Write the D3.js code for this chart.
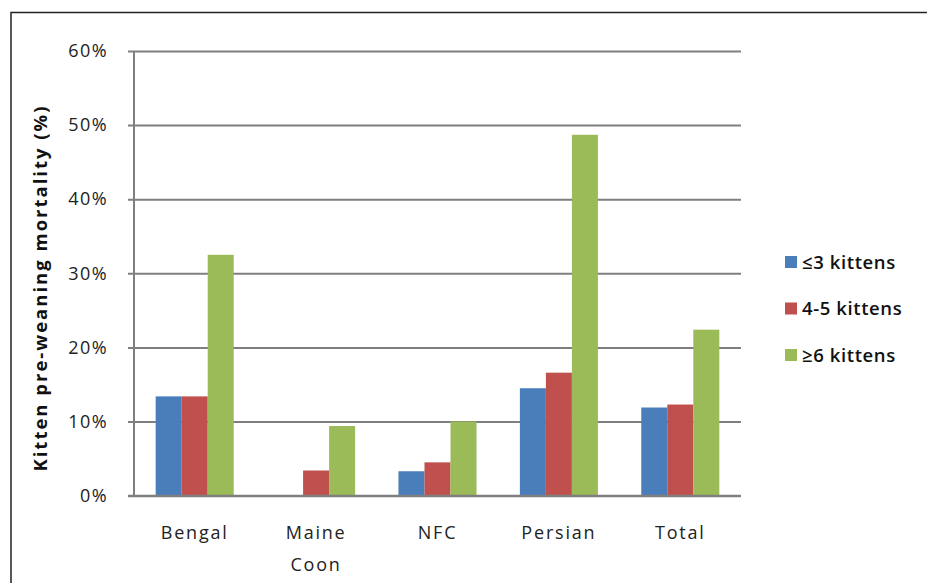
<!DOCTYPE html>
<html><head><meta charset="utf-8">
<script src="https://cdn.jsdelivr.net/npm/d3@7"></script>
<style>body{margin:0;background:#fff}text{font-family:"Open Sans",Lato,sans-serif}</style>
</head><body><svg id="c" width="927" height="583"></svg>
<script>
const categories = ["Bengal", "Maine Coon", "NFC", "Persian", "Total"];
const seriesNames = ["≤3 kittens", "4-5 kittens", "≥6 kittens"];
const le3 = [13.4, 0, 3.3, 14.5, 11.9];
const k45 = [13.4, 3.4, 4.5, 16.6, 12.3];
const ge6 = [32.5, 9.4, 10.0, 48.7, 22.4];
const yTicks = [0, 10, 20, 30, 40, 50, 60];
const colors = ["#4a7ebb", "#c0504d", "#9bbb59"];
const series = [le3, k45, ge6];

const svg = d3.select("#c");
svg.append("rect").attr("x",11).attr("y",12.5).attr("width",930).attr("height",600)
  .attr("fill","none").attr("stroke","#222").attr("stroke-width",1.5);

const L = 134, R = 741, T = 51, B = 495.7;
const x = d3.scaleBand().domain(categories).range([L, R]).paddingInner(0.357).paddingOuter(0.1785);
const xs = d3.scaleBand().domain(d3.range(3)).range([0, x.bandwidth()]);
const y = d3.scaleLinear().domain([0, 60]).range([B, T]);

const yAxis = d3.axisLeft(y).tickValues(yTicks).tickFormat(d => d + "%").tickSize(R - L + 6).tickPadding(20);
const gy = svg.append("g").attr("transform", `translate(${R},0)`).call(yAxis);
gy.select(".domain").remove();
gy.selectAll(".tick line").attr("stroke", "#7f7f7f").attr("stroke-width", 2);
gy.selectAll(".tick text").attr("font-size", 18).attr("letter-spacing", 1.4).attr("fill", "#222")
  .attr("font-family", "'Open Sans',sans-serif");

svg.append("line").attr("x1", L).attr("x2", L).attr("y1", T).attr("y2", B)
  .attr("stroke", "#7f7f7f").attr("stroke-width", 2);

series.forEach((vals, si) => {
  svg.append("g").selectAll("rect").data(vals).join("rect")
    .attr("x", (d, i) => x(categories[i]) + xs(si))
    .attr("width", xs.bandwidth())
    .attr("y", d => y(d))
    .attr("height", d => B - y(d))
    .attr("fill", colors[si]);
});
svg.append("line").attr("x1", L - 6).attr("x2", R).attr("y1", B).attr("y2", B)
  .attr("stroke", "#7f7f7f").attr("stroke-width", 2);

const gx = svg.append("g");
categories.forEach(c => {
  const words = c.split(" ");
  const cx = x(c) + x.bandwidth() / 2;
  const t = gx.append("text").attr("x", cx).attr("y", 539)
    .attr("text-anchor", "middle").attr("font-size", 18).attr("letter-spacing", 1.8).attr("fill", "#222");
  words.forEach((w, i) => t.append("tspan").attr("x", cx).attr("dy", i ? 32 : 0).text(w));
});

svg.append("text").attr("transform", "translate(47,288) rotate(-90)")
  .attr("text-anchor", "middle").attr("font-size", 18.5).attr("font-weight", "bold")
  .attr("letter-spacing", 2).attr("fill", "#111")
  .text("Kitten  pre-weaning mortality  (%)");

const lg = svg.append("g");
seriesNames.forEach((n, i) => {
  const cy = 262 + i * 46.5;
  lg.append("rect").attr("x", 785).attr("y", cy - 6).attr("width", 12).attr("height", 12).attr("fill", colors[i]);
  lg.append("text").attr("x", 802).attr("y", cy + 6.5).attr("font-size", 18.5).attr("font-weight", 600)
    .attr("letter-spacing", 0.6).attr("fill", "#111").text(n);
});
</script></body></html>
